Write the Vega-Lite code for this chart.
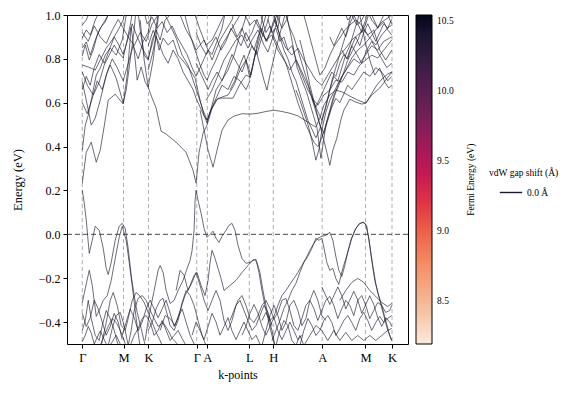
{
"$schema": "https://vega.github.io/schema/vega-lite/v6.json",
"width": 341, "height": 329,
"autosize": {"type": "none"},
"padding": {"left": 67, "top": 15, "right": 175, "bottom": 52},
"background": "white",
"config": {"view": {"stroke": "#000", "strokeWidth": 1}, "font": "Liberation Serif", "axis": {"labelOverlap": false, "labelFlush": false, "grid": false, "domain": false}},
"datasets": {
"kp": [{"k":0},{"k":41.3},{"k":66.3},{"k":114.7},{"k":125.3},{"k":167.3},{"k":191.3},{"k":240.3},{"k":283.7},{"k":310.3}],
"cb": [{"f":8.19},{"f":10.54}],
"bands": [
{"b":"c1","k":0,"e":0.233},{"b":"c1","k":4,"e":0.374},{"b":"c1","k":9,"e":0.420},{"b":"c1","k":14,"e":0.329},{"b":"c1","k":18,"e":0.384},{"b":"c1","k":22,"e":0.493},{"b":"c1","k":26,"e":0.612},{"b":"c1","k":33,"e":0.639},{"b":"c1","k":41,"e":0.594},{"b":"c1","k":45,"e":0.726},{"b":"c1","k":49,"e":0.945},{"b":"c1","k":52,"e":0.840},{"b":"c1","k":55,"e":0.703},{"b":"c1","k":59,"e":0.763},{"b":"c1","k":63,"e":0.694},{"b":"c1","k":66,"e":0.671},{"b":"c1","k":71,"e":0.795},{"b":"c1","k":74,"e":0.909},{"b":"c1","k":77,"e":1.023},
{"b":"c2","k":58,"e":0.977},{"b":"c2","k":62,"e":0.795},{"b":"c2","k":66,"e":0.671},{"b":"c2","k":70,"e":0.621},{"b":"c2","k":74,"e":0.575},{"b":"c2","k":79,"e":0.470},{"b":"c2","k":84,"e":0.457},{"b":"c2","k":94,"e":0.420},{"b":"c2","k":104,"e":0.374},{"b":"c2","k":111,"e":0.292},{"b":"c2","k":114,"e":0.233},{"b":"c2","k":117,"e":0.374},{"b":"c2","k":121,"e":0.461},{"b":"c2","k":125,"e":0.498},{"b":"c2","k":130,"e":0.575},{"b":"c2","k":136,"e":0.621},{"b":"c2","k":144,"e":0.621},{"b":"c2","k":151,"e":0.621},{"b":"c2","k":158,"e":0.685},{"b":"c2","k":164,"e":0.726},{"b":"c2","k":168,"e":0.717},{"b":"c2","k":172,"e":0.795},{"b":"c2","k":176,"e":0.863},{"b":"c2","k":180,"e":0.932},{"b":"c2","k":184,"e":1.000},{"b":"c2","k":188,"e":1.091},
{"b":"c3","k":0,"e":0.694},{"b":"c3","k":4,"e":0.612},{"b":"c3","k":9,"e":0.498},{"b":"c3","k":13,"e":0.530},{"b":"c3","k":18,"e":0.612},{"b":"c3","k":24,"e":0.726},{"b":"c3","k":28,"e":0.772},{"b":"c3","k":34,"e":0.712},{"b":"c3","k":41,"e":0.598},{"b":"c3","k":44,"e":0.658},{"b":"c3","k":48,"e":0.795},{"b":"c3","k":52,"e":0.932},{"b":"c3","k":55,"e":1.091},
{"b":"c4","k":0,"e":0.740},{"b":"c4","k":5,"e":0.680},{"b":"c4","k":11,"e":0.635},{"b":"c4","k":17,"e":0.694},{"b":"c4","k":22,"e":0.772},{"b":"c4","k":27,"e":0.817},{"b":"c4","k":32,"e":0.863},{"b":"c4","k":36,"e":0.831},{"b":"c4","k":41,"e":0.804},{"b":"c4","k":45,"e":0.886},{"b":"c4","k":49,"e":0.977},{"b":"c4","k":52,"e":1.091},
{"b":"c5","k":0,"e":0.772},{"b":"c5","k":6,"e":0.763},{"b":"c5","k":13,"e":0.749},{"b":"c5","k":18,"e":0.795},{"b":"c5","k":24,"e":0.849},{"b":"c5","k":30,"e":0.886},{"b":"c5","k":36,"e":0.932},{"b":"c5","k":41,"e":0.977},{"b":"c5","k":46,"e":1.091},
{"b":"c6","k":0,"e":0.849},{"b":"c6","k":4,"e":0.877},{"b":"c6","k":8,"e":0.817},{"b":"c6","k":13,"e":0.886},{"b":"c6","k":18,"e":0.941},{"b":"c6","k":23,"e":0.968},{"b":"c6","k":28,"e":1.023},{"b":"c6","k":31,"e":1.091},
{"b":"c7","k":0,"e":0.895},{"b":"c7","k":4,"e":0.932},{"b":"c7","k":8,"e":0.909},{"b":"c7","k":13,"e":0.977},{"b":"c7","k":18,"e":1.023},{"b":"c7","k":22,"e":1.091},
{"b":"c8","k":0,"e":0.954},{"b":"c8","k":4,"e":0.977},{"b":"c8","k":8,"e":1.023},{"b":"c8","k":12,"e":1.091},
{"b":"c9","k":0,"e":0.813},{"b":"c9","k":3,"e":0.863},{"b":"c9","k":7,"e":0.795},{"b":"c9","k":11,"e":0.840},{"b":"c9","k":15,"e":0.909},{"b":"c9","k":20,"e":0.954},{"b":"c9","k":26,"e":1.000},{"b":"c9","k":30,"e":1.091},
{"b":"c10","k":0,"e":0.384},{"b":"c10","k":3,"e":0.498},{"b":"c10","k":6,"e":0.543},{"b":"c10","k":10,"e":0.635},{"b":"c10","k":14,"e":0.726},{"b":"c10","k":18,"e":0.758},{"b":"c10","k":23,"e":0.817},{"b":"c10","k":28,"e":0.849},{"b":"c10","k":34,"e":0.817},{"b":"c10","k":40,"e":0.886},{"b":"c10","k":44,"e":1.000},{"b":"c10","k":47,"e":1.091},
{"b":"c12","k":54,"e":1.091},{"b":"c12","k":58,"e":0.932},{"b":"c12","k":62,"e":0.817},{"b":"c12","k":66,"e":0.795},{"b":"c12","k":70,"e":0.886},{"b":"c12","k":74,"e":0.932},{"b":"c12","k":78,"e":0.886},{"b":"c12","k":83,"e":0.977},{"b":"c12","k":88,"e":1.000},{"b":"c12","k":92,"e":1.091},
{"b":"c13","k":66,"e":0.749},{"b":"c13","k":70,"e":0.817},{"b":"c13","k":74,"e":0.904},{"b":"c13","k":77,"e":0.840},{"b":"c13","k":81,"e":0.895},{"b":"c13","k":86,"e":0.863},{"b":"c13","k":91,"e":0.886},{"b":"c13","k":96,"e":0.817},{"b":"c13","k":102,"e":0.785},{"b":"c13","k":108,"e":0.749},{"b":"c13","k":113,"e":0.712},{"b":"c13","k":118,"e":0.612},{"b":"c13","k":122,"e":0.543},{"b":"c13","k":125,"e":0.507},{"b":"c13","k":130,"e":0.589},{"b":"c13","k":134,"e":0.658},{"b":"c13","k":140,"e":0.703},{"b":"c13","k":146,"e":0.749},{"b":"c13","k":152,"e":0.817},{"b":"c13","k":158,"e":0.909},{"b":"c13","k":163,"e":0.977},{"b":"c13","k":168,"e":1.091},
{"b":"c14","k":78,"e":1.091},{"b":"c14","k":83,"e":1.000},{"b":"c14","k":88,"e":0.954},{"b":"c14","k":94,"e":0.895},{"b":"c14","k":100,"e":0.817},{"b":"c14","k":106,"e":0.772},{"b":"c14","k":111,"e":0.703},{"b":"c14","k":116,"e":0.635},{"b":"c14","k":121,"e":0.566},{"b":"c14","k":125,"e":0.521},{"b":"c14","k":129,"e":0.566},{"b":"c14","k":134,"e":0.612},{"b":"c14","k":140,"e":0.626},{"b":"c14","k":146,"e":0.635},{"b":"c14","k":152,"e":0.680},{"b":"c14","k":158,"e":0.749},{"b":"c14","k":164,"e":0.795},{"b":"c14","k":169,"e":0.726},{"b":"c14","k":173,"e":0.817},{"b":"c14","k":177,"e":0.909},{"b":"c14","k":181,"e":1.000},{"b":"c14","k":184,"e":1.091},
{"b":"c15","k":94,"e":1.091},{"b":"c15","k":98,"e":1.000},{"b":"c15","k":104,"e":0.932},{"b":"c15","k":110,"e":0.886},{"b":"c15","k":114,"e":0.840},{"b":"c15","k":118,"e":0.863},{"b":"c15","k":122,"e":0.886},{"b":"c15","k":126,"e":0.840},{"b":"c15","k":130,"e":0.795},{"b":"c15","k":134,"e":0.840},{"b":"c15","k":138,"e":0.886},{"b":"c15","k":144,"e":0.932},{"b":"c15","k":150,"e":0.977},{"b":"c15","k":156,"e":1.091},
{"b":"c16","k":118,"e":0.566},{"b":"c16","k":122,"e":0.475},{"b":"c16","k":126,"e":0.384},{"b":"c16","k":131,"e":0.306},{"b":"c16","k":135,"e":0.384},{"b":"c16","k":140,"e":0.475},{"b":"c16","k":146,"e":0.521},{"b":"c16","k":152,"e":0.539},{"b":"c16","k":160,"e":0.550},{"b":"c16","k":168,"e":0.548},{"b":"c16","k":176,"e":0.552},{"b":"c16","k":184,"e":0.560},{"b":"c16","k":192,"e":0.566},{"b":"c16","k":200,"e":0.560},{"b":"c16","k":208,"e":0.552},{"b":"c16","k":216,"e":0.540},{"b":"c16","k":223,"e":0.520},{"b":"c16","k":228,"e":0.505},{"b":"c16","k":234,"e":0.489},{"b":"c16","k":238,"e":0.530},{"b":"c16","k":242,"e":0.589},{"b":"c16","k":248,"e":0.635},{"b":"c16","k":254,"e":0.658},{"b":"c16","k":261,"e":0.648},{"b":"c16","k":268,"e":0.630},{"b":"c16","k":276,"e":0.612},{"b":"c16","k":284,"e":0.598},{"b":"c16","k":290,"e":0.635},{"b":"c16","k":298,"e":0.667},{"b":"c16","k":304,"e":0.703},{"b":"c16","k":310,"e":0.740},
{"b":"c17","k":198,"e":1.091},{"b":"c17","k":202,"e":1.023},{"b":"c17","k":205,"e":0.991},{"b":"c17","k":210,"e":0.886},{"b":"c17","k":215,"e":0.763},{"b":"c17","k":220,"e":0.703},{"b":"c17","k":225,"e":0.644},{"b":"c17","k":230,"e":0.566},{"b":"c17","k":235,"e":0.489},{"b":"c17","k":238,"e":0.384},{"b":"c17","k":239,"e":0.347},{"b":"c17","k":241,"e":0.406},{"b":"c17","k":244,"e":0.498},{"b":"c17","k":248,"e":0.566},{"b":"c17","k":252,"e":0.635},{"b":"c17","k":256,"e":0.667},{"b":"c17","k":261,"e":0.726},{"b":"c17","k":266,"e":0.795},{"b":"c17","k":271,"e":0.840},{"b":"c17","k":276,"e":0.886},{"b":"c17","k":280,"e":0.932},{"b":"c17","k":284,"e":0.977},{"b":"c17","k":288,"e":1.091},
{"b":"c18","k":218,"e":0.886},{"b":"c18","k":223,"e":0.795},{"b":"c18","k":228,"e":0.680},{"b":"c18","k":233,"e":0.589},{"b":"c18","k":238,"e":0.498},{"b":"c18","k":242,"e":0.429},{"b":"c18","k":245,"e":0.374},{"b":"c18","k":248,"e":0.315},{"b":"c18","k":251,"e":0.384},{"b":"c18","k":255,"e":0.438},{"b":"c18","k":259,"e":0.521},{"b":"c18","k":262,"e":0.566},{"b":"c18","k":268,"e":0.616},{"b":"c18","k":274,"e":0.603},{"b":"c18","k":280,"e":0.594},{"b":"c18","k":284,"e":0.598},{"b":"c18","k":289,"e":0.635},{"b":"c18","k":295,"e":0.680},{"b":"c18","k":301,"e":0.712},{"b":"c18","k":306,"e":0.731},{"b":"c18","k":310,"e":0.740},
{"b":"c19","k":214,"e":0.658},{"b":"c19","k":218,"e":0.612},{"b":"c19","k":222,"e":0.557},{"b":"c19","k":226,"e":0.502},{"b":"c19","k":230,"e":0.429},{"b":"c19","k":234,"e":0.338},{"b":"c19","k":237,"e":0.384},{"b":"c19","k":240,"e":0.475},{"b":"c19","k":244,"e":0.557},{"b":"c19","k":248,"e":0.612},{"b":"c19","k":253,"e":0.658},{"b":"c19","k":258,"e":0.703},{"b":"c19","k":264,"e":0.749},{"b":"c19","k":270,"e":0.804},{"b":"c19","k":276,"e":0.840},{"b":"c19","k":282,"e":0.863},{"b":"c19","k":288,"e":0.895},{"b":"c19","k":294,"e":0.932},{"b":"c19","k":300,"e":0.968},{"b":"c19","k":306,"e":0.986},{"b":"c19","k":310,"e":1.000},
{"b":"c20","k":148,"e":0.658},{"b":"c20","k":153,"e":0.703},{"b":"c20","k":158,"e":0.772},{"b":"c20","k":162,"e":0.817},{"b":"c20","k":165,"e":0.772},{"b":"c20","k":168,"e":0.712},{"b":"c20","k":171,"e":0.772},{"b":"c20","k":174,"e":0.840},{"b":"c20","k":178,"e":0.772},{"b":"c20","k":182,"e":0.703},{"b":"c20","k":185,"e":0.658},{"b":"c20","k":188,"e":0.726},{"b":"c20","k":191,"e":0.785},{"b":"c20","k":195,"e":0.863},{"b":"c20","k":199,"e":0.932},{"b":"c20","k":203,"e":1.000},{"b":"c20","k":206,"e":1.091},
{"b":"c21","k":124,"e":0.612},{"b":"c21","k":130,"e":0.658},{"b":"c21","k":136,"e":0.726},{"b":"c21","k":142,"e":0.795},{"b":"c21","k":148,"e":0.840},{"b":"c21","k":154,"e":0.886},{"b":"c21","k":160,"e":0.909},{"b":"c21","k":166,"e":0.849},{"b":"c21","k":170,"e":0.886},{"b":"c21","k":176,"e":0.932},{"b":"c21","k":182,"e":0.863},{"b":"c21","k":186,"e":0.831},{"b":"c21","k":190,"e":0.886},{"b":"c21","k":194,"e":0.954},{"b":"c21","k":198,"e":1.023},{"b":"c21","k":201,"e":1.091},
{"b":"c22","k":158,"e":1.091},{"b":"c22","k":163,"e":1.000},{"b":"c22","k":168,"e":0.954},{"b":"c22","k":173,"e":0.977},{"b":"c22","k":178,"e":0.932},{"b":"c22","k":184,"e":0.886},{"b":"c22","k":190,"e":0.909},{"b":"c22","k":196,"e":0.840},{"b":"c22","k":202,"e":0.795},{"b":"c22","k":208,"e":0.749},{"b":"c22","k":214,"e":0.795},{"b":"c22","k":220,"e":0.726},{"b":"c22","k":226,"e":0.658},{"b":"c22","k":232,"e":0.612},{"b":"c22","k":236,"e":0.589},{"b":"c22","k":242,"e":0.635},{"b":"c22","k":248,"e":0.658},{"b":"c22","k":254,"e":0.703},{"b":"c22","k":260,"e":0.694},{"b":"c22","k":266,"e":0.740},{"b":"c22","k":272,"e":0.726},{"b":"c22","k":278,"e":0.772},{"b":"c22","k":284,"e":0.795},{"b":"c22","k":290,"e":0.817},{"b":"c22","k":296,"e":0.804},{"b":"c22","k":302,"e":0.840},{"b":"c22","k":306,"e":0.863},{"b":"c22","k":310,"e":0.886},
{"b":"c23","k":188,"e":1.091},{"b":"c23","k":193,"e":0.977},{"b":"c23","k":198,"e":0.909},{"b":"c23","k":204,"e":0.849},{"b":"c23","k":210,"e":0.817},{"b":"c23","k":216,"e":0.849},{"b":"c23","k":222,"e":0.795},{"b":"c23","k":228,"e":0.749},{"b":"c23","k":234,"e":0.703},{"b":"c23","k":240,"e":0.680},{"b":"c23","k":246,"e":0.726},{"b":"c23","k":252,"e":0.772},{"b":"c23","k":258,"e":0.817},{"b":"c23","k":264,"e":0.849},{"b":"c23","k":270,"e":0.886},{"b":"c23","k":276,"e":0.909},{"b":"c23","k":282,"e":0.932},{"b":"c23","k":288,"e":0.895},{"b":"c23","k":294,"e":0.863},{"b":"c23","k":300,"e":0.909},{"b":"c23","k":306,"e":0.941},{"b":"c23","k":310,"e":0.954},
{"b":"c24","k":218,"e":1.091},{"b":"c24","k":222,"e":1.000},{"b":"c24","k":226,"e":0.932},{"b":"c24","k":230,"e":0.863},{"b":"c24","k":234,"e":0.795},{"b":"c24","k":238,"e":0.726},{"b":"c24","k":243,"e":0.758},{"b":"c24","k":248,"e":0.817},{"b":"c24","k":253,"e":0.863},{"b":"c24","k":258,"e":0.895},{"b":"c24","k":263,"e":0.932},{"b":"c24","k":268,"e":0.954},{"b":"c24","k":274,"e":0.977},{"b":"c24","k":280,"e":0.954},{"b":"c24","k":286,"e":0.909},{"b":"c24","k":292,"e":0.932},{"b":"c24","k":298,"e":0.840},{"b":"c24","k":304,"e":0.795},{"b":"c24","k":310,"e":0.840},
{"b":"c25","k":258,"e":1.091},{"b":"c25","k":262,"e":1.023},{"b":"c25","k":266,"e":0.977},{"b":"c25","k":270,"e":1.000},{"b":"c25","k":275,"e":0.954},{"b":"c25","k":280,"e":0.977},{"b":"c25","k":285,"e":1.023},{"b":"c25","k":290,"e":0.977},{"b":"c25","k":296,"e":0.941},{"b":"c25","k":302,"e":0.968},{"b":"c25","k":306,"e":0.932},{"b":"c25","k":310,"e":0.909},
{"b":"c26","k":273,"e":1.091},{"b":"c26","k":278,"e":1.000},{"b":"c26","k":283,"e":0.886},{"b":"c26","k":288,"e":0.795},{"b":"c26","k":293,"e":0.726},{"b":"c26","k":298,"e":0.758},{"b":"c26","k":303,"e":0.694},{"b":"c26","k":307,"e":0.667},{"b":"c26","k":310,"e":0.680},
{"b":"c27","k":98,"e":1.091},{"b":"c27","k":104,"e":0.977},{"b":"c27","k":108,"e":0.909},{"b":"c27","k":113,"e":0.840},{"b":"c27","k":118,"e":0.772},{"b":"c27","k":122,"e":0.726},{"b":"c27","k":125,"e":0.703},{"b":"c27","k":129,"e":0.749},{"b":"c27","k":134,"e":0.795},{"b":"c27","k":140,"e":0.863},{"b":"c27","k":146,"e":0.909},{"b":"c27","k":152,"e":0.954},{"b":"c27","k":158,"e":1.000},{"b":"c27","k":164,"e":1.091},
{"b":"c28","k":108,"e":1.091},{"b":"c28","k":113,"e":1.000},{"b":"c28","k":118,"e":0.932},{"b":"c28","k":124,"e":0.863},{"b":"c28","k":130,"e":0.886},{"b":"c28","k":136,"e":0.941},{"b":"c28","k":142,"e":1.000},{"b":"c28","k":148,"e":1.091},
{"b":"c29","k":0,"e":0.60},{"b":"c29","k":5,"e":0.55},{"b":"c29","k":10,"e":0.62},{"b":"c29","k":15,"e":0.70},{"b":"c29","k":20,"e":0.66},{"b":"c29","k":25,"e":0.74},{"b":"c29","k":30,"e":0.80},{"b":"c29","k":35,"e":0.76},{"b":"c29","k":41,"e":0.70},{"b":"c29","k":46,"e":0.78},{"b":"c29","k":51,"e":0.86},{"b":"c29","k":56,"e":0.80},{"b":"c29","k":61,"e":0.88},{"b":"c29","k":66,"e":0.92},{"b":"c29","k":71,"e":1.05},
{"b":"c30","k":0,"e":0.66},{"b":"c30","k":4,"e":0.72},{"b":"c30","k":8,"e":0.68},{"b":"c30","k":12,"e":0.76},{"b":"c30","k":17,"e":0.82},{"b":"c30","k":22,"e":0.78},{"b":"c30","k":27,"e":0.84},{"b":"c30","k":32,"e":0.90},{"b":"c30","k":37,"e":0.86},{"b":"c30","k":41,"e":0.82},{"b":"c30","k":45,"e":0.88},{"b":"c30","k":50,"e":0.96},{"b":"c30","k":55,"e":0.90},{"b":"c30","k":60,"e":0.85},{"b":"c30","k":66,"e":0.80},{"b":"c30","k":72,"e":0.90},{"b":"c30","k":78,"e":1.05},
{"b":"c31","k":0,"e":0.92},{"b":"c31","k":6,"e":0.88},{"b":"c31","k":12,"e":0.95},{"b":"c31","k":18,"e":0.90},{"b":"c31","k":24,"e":0.87},{"b":"c31","k":30,"e":0.93},{"b":"c31","k":36,"e":0.98},{"b":"c31","k":41,"e":0.94},{"b":"c31","k":46,"e":0.90},{"b":"c31","k":52,"e":0.86},{"b":"c31","k":58,"e":0.92},{"b":"c31","k":64,"e":0.88},{"b":"c31","k":70,"e":0.96},{"b":"c31","k":76,"e":1.00},{"b":"c31","k":82,"e":1.06},
{"b":"c32","k":66,"e":0.86},{"b":"c32","k":71,"e":0.93},{"b":"c32","k":76,"e":0.88},{"b":"c32","k":81,"e":0.82},{"b":"c32","k":86,"e":0.78},{"b":"c32","k":91,"e":0.84},{"b":"c32","k":96,"e":0.80},{"b":"c32","k":101,"e":0.74},{"b":"c32","k":106,"e":0.70},{"b":"c32","k":111,"e":0.66},{"b":"c32","k":114,"e":0.62},{"b":"c32","k":118,"e":0.58},{"b":"c32","k":122,"e":0.54},{"b":"c32","k":125,"e":0.52},{"b":"c32","k":129,"e":0.57},{"b":"c32","k":134,"e":0.62},{"b":"c32","k":140,"e":0.68},{"b":"c32","k":146,"e":0.66},{"b":"c32","k":152,"e":0.72},{"b":"c32","k":158,"e":0.70},{"b":"c32","k":164,"e":0.66},{"b":"c32","k":168,"e":0.70},
{"b":"c33","k":60,"e":1.05},{"b":"c33","k":65,"e":0.96},{"b":"c33","k":70,"e":0.99},{"b":"c33","k":75,"e":0.94},{"b":"c33","k":80,"e":0.97},{"b":"c33","k":85,"e":0.92},{"b":"c33","k":90,"e":0.95},{"b":"c33","k":95,"e":0.90},{"b":"c33","k":100,"e":0.86},{"b":"c33","k":105,"e":0.82},{"b":"c33","k":110,"e":0.76},{"b":"c33","k":114,"e":0.72},{"b":"c33","k":118,"e":0.76},{"b":"c33","k":122,"e":0.80},{"b":"c33","k":126,"e":0.84},{"b":"c33","k":130,"e":0.82},{"b":"c33","k":135,"e":0.88},{"b":"c33","k":140,"e":0.94},{"b":"c33","k":145,"e":1.05},
{"b":"c34","k":114,"e":0.78},{"b":"c34","k":118,"e":0.74},{"b":"c34","k":122,"e":0.70},{"b":"c34","k":126,"e":0.66},{"b":"c34","k":130,"e":0.70},{"b":"c34","k":135,"e":0.74},{"b":"c34","k":140,"e":0.70},{"b":"c34","k":145,"e":0.76},{"b":"c34","k":150,"e":0.82},{"b":"c34","k":155,"e":0.78},{"b":"c34","k":160,"e":0.74},{"b":"c34","k":165,"e":0.80},{"b":"c34","k":170,"e":0.86},{"b":"c34","k":175,"e":0.82},{"b":"c34","k":180,"e":0.90},{"b":"c34","k":185,"e":0.96},{"b":"c34","k":190,"e":1.05},
{"b":"c35","k":114,"e":0.92},{"b":"c35","k":119,"e":0.86},{"b":"c35","k":124,"e":0.82},{"b":"c35","k":129,"e":0.86},{"b":"c35","k":134,"e":0.90},{"b":"c35","k":139,"e":0.84},{"b":"c35","k":144,"e":0.88},{"b":"c35","k":149,"e":0.94},{"b":"c35","k":154,"e":0.90},{"b":"c35","k":159,"e":0.86},{"b":"c35","k":164,"e":0.92},{"b":"c35","k":168,"e":0.88},{"b":"c35","k":172,"e":0.84},{"b":"c35","k":176,"e":0.90},{"b":"c35","k":180,"e":0.94},{"b":"c35","k":184,"e":0.88},{"b":"c35","k":188,"e":0.92},{"b":"c35","k":192,"e":0.98},{"b":"c35","k":196,"e":0.94},{"b":"c35","k":200,"e":1.05},
{"b":"c36","k":176,"e":1.05},{"b":"c36","k":180,"e":0.98},{"b":"c36","k":184,"e":0.92},{"b":"c36","k":188,"e":0.95},{"b":"c36","k":192,"e":0.90},{"b":"c36","k":196,"e":0.86},{"b":"c36","k":200,"e":0.82},{"b":"c36","k":204,"e":0.78},{"b":"c36","k":208,"e":0.72},{"b":"c36","k":212,"e":0.66},{"b":"c36","k":216,"e":0.60},{"b":"c36","k":220,"e":0.55},{"b":"c36","k":224,"e":0.50},{"b":"c36","k":228,"e":0.46},{"b":"c36","k":232,"e":0.42},{"b":"c36","k":236,"e":0.40},{"b":"c36","k":240,"e":0.44},{"b":"c36","k":244,"e":0.50},{"b":"c36","k":248,"e":0.56},{"b":"c36","k":252,"e":0.62},{"b":"c36","k":256,"e":0.68},{"b":"c36","k":260,"e":0.72},{"b":"c36","k":266,"e":0.76},{"b":"c36","k":272,"e":0.80},{"b":"c36","k":278,"e":0.78},{"b":"c36","k":284,"e":0.82},{"b":"c36","k":290,"e":0.86},{"b":"c36","k":296,"e":0.84},{"b":"c36","k":302,"e":0.88},{"b":"c36","k":310,"e":0.90},
{"b":"c37","k":190,"e":1.05},{"b":"c37","k":194,"e":0.97},{"b":"c37","k":198,"e":0.90},{"b":"c37","k":202,"e":0.84},{"b":"c37","k":206,"e":0.80},{"b":"c37","k":210,"e":0.74},{"b":"c37","k":214,"e":0.70},{"b":"c37","k":218,"e":0.64},{"b":"c37","k":222,"e":0.58},{"b":"c37","k":226,"e":0.52},{"b":"c37","k":230,"e":0.48},{"b":"c37","k":234,"e":0.44},{"b":"c37","k":238,"e":0.48},{"b":"c37","k":242,"e":0.55},{"b":"c37","k":246,"e":0.62},{"b":"c37","k":250,"e":0.70},{"b":"c37","k":254,"e":0.76},{"b":"c37","k":258,"e":0.82},{"b":"c37","k":262,"e":0.88},{"b":"c37","k":266,"e":0.94},{"b":"c37","k":270,"e":1.02},
{"b":"c38","k":200,"e":1.05},{"b":"c38","k":204,"e":1.00},{"b":"c38","k":208,"e":0.94},{"b":"c38","k":212,"e":0.90},{"b":"c38","k":216,"e":0.84},{"b":"c38","k":220,"e":0.78},{"b":"c38","k":224,"e":0.72},{"b":"c38","k":228,"e":0.66},{"b":"c38","k":232,"e":0.60},{"b":"c38","k":236,"e":0.56},{"b":"c38","k":240,"e":0.52},{"b":"c38","k":244,"e":0.58},{"b":"c38","k":248,"e":0.66},{"b":"c38","k":252,"e":0.72},{"b":"c38","k":256,"e":0.70},{"b":"c38","k":260,"e":0.76},{"b":"c38","k":264,"e":0.82},{"b":"c38","k":268,"e":0.86},{"b":"c38","k":272,"e":0.92},{"b":"c38","k":276,"e":0.98},{"b":"c38","k":280,"e":1.05},
{"b":"c39","k":260,"e":0.84},{"b":"c39","k":265,"e":0.80},{"b":"c39","k":270,"e":0.86},{"b":"c39","k":275,"e":0.82},{"b":"c39","k":280,"e":0.78},{"b":"c39","k":285,"e":0.84},{"b":"c39","k":290,"e":0.88},{"b":"c39","k":295,"e":0.84},{"b":"c39","k":300,"e":0.80},{"b":"c39","k":305,"e":0.76},{"b":"c39","k":310,"e":0.78},
{"b":"c40","k":150,"e":0.96},{"b":"c40","k":155,"e":0.90},{"b":"c40","k":160,"e":0.94},{"b":"c40","k":165,"e":0.88},{"b":"c40","k":170,"e":0.92},{"b":"c40","k":175,"e":0.98},{"b":"c40","k":180,"e":0.92},{"b":"c40","k":185,"e":0.88},{"b":"c40","k":190,"e":0.94},{"b":"c40","k":195,"e":1.00},{"b":"c40","k":200,"e":0.94},{"b":"c40","k":205,"e":0.98},{"b":"c40","k":210,"e":1.05},
{"b":"c41","k":186,"e":0.98},{"b":"c41","k":190,"e":0.92},{"b":"c41","k":194,"e":0.94},{"b":"c41","k":198,"e":0.88},{"b":"c41","k":202,"e":0.90},{"b":"c41","k":206,"e":0.84},{"b":"c41","k":210,"e":0.86},{"b":"c41","k":214,"e":0.80},{"b":"c41","k":218,"e":0.76},{"b":"c41","k":222,"e":0.72},{"b":"c41","k":226,"e":0.68},{"b":"c41","k":230,"e":0.62},{"b":"c41","k":234,"e":0.58},{"b":"c41","k":238,"e":0.62},{"b":"c41","k":242,"e":0.66},{"b":"c41","k":246,"e":0.70},{"b":"c41","k":250,"e":0.74},{"b":"c41","k":254,"e":0.72},{"b":"c41","k":258,"e":0.78},{"b":"c41","k":262,"e":0.82},{"b":"c41","k":266,"e":0.80},{"b":"c41","k":270,"e":0.86},{"b":"c41","k":274,"e":0.90},{"b":"c41","k":278,"e":0.86},{"b":"c41","k":282,"e":0.92},{"b":"c41","k":286,"e":0.96},{"b":"c41","k":290,"e":0.92},{"b":"c41","k":294,"e":0.88},{"b":"c41","k":298,"e":0.92},{"b":"c41","k":302,"e":0.96},{"b":"c41","k":306,"e":0.94},{"b":"c41","k":310,"e":0.98},
{"b":"c42","k":230,"e":0.62},{"b":"c42","k":234,"e":0.56},{"b":"c42","k":238,"e":0.50},{"b":"c42","k":242,"e":0.46},{"b":"c42","k":246,"e":0.52},{"b":"c42","k":250,"e":0.58},{"b":"c42","k":254,"e":0.62},{"b":"c42","k":258,"e":0.60},{"b":"c42","k":262,"e":0.64},{"b":"c42","k":266,"e":0.68},{"b":"c42","k":270,"e":0.66},{"b":"c42","k":276,"e":0.70},{"b":"c42","k":282,"e":0.74},{"b":"c42","k":288,"e":0.72},{"b":"c42","k":294,"e":0.76},{"b":"c42","k":300,"e":0.74},{"b":"c42","k":306,"e":0.70},{"b":"c42","k":310,"e":0.72},
{"b":"c43","k":248,"e":0.90},{"b":"c43","k":252,"e":0.86},{"b":"c43","k":256,"e":0.90},{"b":"c43","k":260,"e":0.94},{"b":"c43","k":264,"e":0.90},{"b":"c43","k":268,"e":0.96},{"b":"c43","k":272,"e":1.00},{"b":"c43","k":276,"e":0.96},{"b":"c43","k":280,"e":0.92},{"b":"c43","k":284,"e":0.96},{"b":"c43","k":288,"e":1.02},{"b":"c43","k":292,"e":0.98},{"b":"c43","k":296,"e":0.94},{"b":"c43","k":300,"e":0.98},{"b":"c43","k":304,"e":1.02},{"b":"c43","k":308,"e":0.98},{"b":"c43","k":310,"e":0.96},
{"b":"v1","k":0,"e":0.201},{"b":"v1","k":2,"e":0.142},{"b":"v1","k":4,"e":0.064},{"b":"v1","k":6,"e":-0.037},{"b":"v1","k":7,"e":-0.087},{"b":"v1","k":10,"e":-0.027},{"b":"v1","k":13,"e":0.037},{"b":"v1","k":17,"e":0.018},{"b":"v1","k":21,"e":-0.064},{"b":"v1","k":24,"e":-0.155},{"b":"v1","k":26,"e":-0.183},{"b":"v1","k":29,"e":-0.128},{"b":"v1","k":33,"e":-0.027},{"b":"v1","k":37,"e":0.037},{"b":"v1","k":40,"e":0.050},{"b":"v1","k":43,"e":0.027},{"b":"v1","k":46,"e":-0.064},{"b":"v1","k":49,"e":-0.187},{"b":"v1","k":52,"e":-0.279},{"b":"v1","k":55,"e":-0.356},{"b":"v1","k":59,"e":-0.429},{"b":"v1","k":63,"e":-0.507},{"b":"v1","k":66,"e":-0.575},
{"b":"v2","k":0,"e":-0.311},{"b":"v2","k":3,"e":-0.247},{"b":"v2","k":7,"e":-0.164},{"b":"v2","k":10,"e":-0.233},{"b":"v2","k":14,"e":-0.374},{"b":"v2","k":17,"e":-0.347},{"b":"v2","k":21,"e":-0.301},{"b":"v2","k":25,"e":-0.279},{"b":"v2","k":29,"e":-0.210},{"b":"v2","k":33,"e":-0.110},{"b":"v2","k":37,"e":-0.014},{"b":"v2","k":40,"e":0.037},{"b":"v2","k":44,"e":-0.027},{"b":"v2","k":47,"e":-0.128},{"b":"v2","k":50,"e":-0.233},{"b":"v2","k":54,"e":-0.384},{"b":"v2","k":57,"e":-0.484},{"b":"v2","k":60,"e":-0.575},
{"b":"v3","k":0,"e":-0.438},{"b":"v3","k":3,"e":-0.393},{"b":"v3","k":6,"e":-0.301},{"b":"v3","k":9,"e":-0.384},{"b":"v3","k":13,"e":-0.461},{"b":"v3","k":17,"e":-0.484},{"b":"v3","k":20,"e":-0.416},{"b":"v3","k":24,"e":-0.347},{"b":"v3","k":28,"e":-0.384},{"b":"v3","k":32,"e":-0.438},{"b":"v3","k":36,"e":-0.507},{"b":"v3","k":40,"e":-0.575},
{"b":"v4","k":16,"e":-0.575},{"b":"v4","k":20,"e":-0.484},{"b":"v4","k":24,"e":-0.402},{"b":"v4","k":28,"e":-0.301},{"b":"v4","k":31,"e":-0.265},{"b":"v4","k":35,"e":-0.324},{"b":"v4","k":39,"e":-0.416},{"b":"v4","k":43,"e":-0.438},{"b":"v4","k":46,"e":-0.384},{"b":"v4","k":50,"e":-0.301},{"b":"v4","k":54,"e":-0.265},{"b":"v4","k":58,"e":-0.283},{"b":"v4","k":62,"e":-0.311},{"b":"v4","k":66,"e":-0.356},{"b":"v4","k":70,"e":-0.402},{"b":"v4","k":74,"e":-0.447},{"b":"v4","k":78,"e":-0.484},{"b":"v4","k":82,"e":-0.530},
{"b":"v5","k":26,"e":-0.507},{"b":"v5","k":30,"e":-0.429},{"b":"v5","k":34,"e":-0.370},{"b":"v5","k":38,"e":-0.356},{"b":"v5","k":42,"e":-0.416},{"b":"v5","k":46,"e":-0.507},{"b":"v5","k":49,"e":-0.575},
{"b":"v6","k":43,"e":-0.575},{"b":"v6","k":46,"e":-0.507},{"b":"v6","k":49,"e":-0.438},{"b":"v6","k":52,"e":-0.347},{"b":"v6","k":56,"e":-0.292},{"b":"v6","k":60,"e":-0.279},{"b":"v6","k":64,"e":-0.301},{"b":"v6","k":68,"e":-0.347},{"b":"v6","k":72,"e":-0.384},{"b":"v6","k":76,"e":-0.420},{"b":"v6","k":81,"e":-0.402},{"b":"v6","k":86,"e":-0.438},{"b":"v6","k":90,"e":-0.475},{"b":"v6","k":94,"e":-0.493},{"b":"v6","k":98,"e":-0.521},
{"b":"v7","k":63,"e":-0.484},{"b":"v7","k":66,"e":-0.393},{"b":"v7","k":70,"e":-0.301},{"b":"v7","k":73,"e":-0.233},{"b":"v7","k":76,"e":-0.164},{"b":"v7","k":78,"e":-0.142},{"b":"v7","k":81,"e":-0.174},{"b":"v7","k":84,"e":-0.256},{"b":"v7","k":88,"e":-0.315},{"b":"v7","k":92,"e":-0.301},{"b":"v7","k":96,"e":-0.256},{"b":"v7","k":101,"e":-0.210},{"b":"v7","k":105,"e":-0.155},{"b":"v7","k":108,"e":-0.119},{"b":"v7","k":110,"e":-0.073},{"b":"v7","k":112,"e":0.018},{"b":"v7","k":113,"e":0.155},{"b":"v7","k":114,"e":0.201},{"b":"v7","k":116,"e":0.155},{"b":"v7","k":119,"e":0.096},{"b":"v7","k":122,"e":0.027},{"b":"v7","k":125,"e":-0.014},{"b":"v7","k":128,"e":0.000},{"b":"v7","k":131,"e":0.014},{"b":"v7","k":134,"e":-0.018},{"b":"v7","k":137,"e":-0.037},{"b":"v7","k":140,"e":-0.009},{"b":"v7","k":144,"e":0.018},{"b":"v7","k":147,"e":0.041},{"b":"v7","k":150,"e":0.050},{"b":"v7","k":153,"e":0.018},{"b":"v7","k":156,"e":-0.050},{"b":"v7","k":160,"e":-0.110},{"b":"v7","k":164,"e":-0.132},{"b":"v7","k":168,"e":-0.128},{"b":"v7","k":172,"e":-0.114},{"b":"v7","k":175,"e":-0.128},{"b":"v7","k":178,"e":-0.174},{"b":"v7","k":181,"e":-0.256},{"b":"v7","k":184,"e":-0.324},{"b":"v7","k":187,"e":-0.384},{"b":"v7","k":190,"e":-0.438},{"b":"v7","k":193,"e":-0.507},{"b":"v7","k":196,"e":-0.575},
{"b":"v8","k":78,"e":-0.438},{"b":"v8","k":83,"e":-0.370},{"b":"v8","k":88,"e":-0.384},{"b":"v8","k":93,"e":-0.416},{"b":"v8","k":98,"e":-0.347},{"b":"v8","k":103,"e":-0.279},{"b":"v8","k":108,"e":-0.233},{"b":"v8","k":112,"e":-0.187},{"b":"v8","k":115,"e":-0.174},{"b":"v8","k":119,"e":-0.233},{"b":"v8","k":123,"e":-0.279},{"b":"v8","k":126,"e":-0.210},{"b":"v8","k":128,"e":-0.128},{"b":"v8","k":130,"e":-0.073},{"b":"v8","k":133,"e":-0.110},{"b":"v8","k":136,"e":-0.155},{"b":"v8","k":139,"e":-0.201},{"b":"v8","k":142,"e":-0.256},{"b":"v8","k":148,"e":-0.233},{"b":"v8","k":154,"e":-0.210},{"b":"v8","k":160,"e":-0.174},{"b":"v8","k":166,"e":-0.142},{"b":"v8","k":171,"e":-0.119},{"b":"v8","k":174,"e":-0.114},{"b":"v8","k":177,"e":-0.174},{"b":"v8","k":180,"e":-0.256},{"b":"v8","k":183,"e":-0.324},{"b":"v8","k":186,"e":-0.384},{"b":"v8","k":190,"e":-0.461},{"b":"v8","k":194,"e":-0.530},
{"b":"v9","k":180,"e":-0.393},{"b":"v9","k":184,"e":-0.356},{"b":"v9","k":188,"e":-0.393},{"b":"v9","k":192,"e":-0.374},{"b":"v9","k":196,"e":-0.324},{"b":"v9","k":200,"e":-0.279},{"b":"v9","k":204,"e":-0.256},{"b":"v9","k":208,"e":-0.228},{"b":"v9","k":212,"e":-0.201},{"b":"v9","k":216,"e":-0.174},{"b":"v9","k":220,"e":-0.142},{"b":"v9","k":224,"e":-0.110},{"b":"v9","k":228,"e":-0.073},{"b":"v9","k":232,"e":-0.041},{"b":"v9","k":236,"e":-0.018},{"b":"v9","k":240,"e":-0.009},{"b":"v9","k":244,"e":-0.005},{"b":"v9","k":248,"e":0.009},{"b":"v9","k":251,"e":-0.027},{"b":"v9","k":254,"e":-0.100},{"b":"v9","k":257,"e":-0.164},{"b":"v9","k":260,"e":-0.192},{"b":"v9","k":263,"e":-0.142},{"b":"v9","k":266,"e":-0.082},{"b":"v9","k":270,"e":-0.018},{"b":"v9","k":274,"e":0.027},{"b":"v9","k":278,"e":0.050},{"b":"v9","k":282,"e":0.055},{"b":"v9","k":285,"e":0.037},{"b":"v9","k":288,"e":-0.050},{"b":"v9","k":291,"e":-0.142},{"b":"v9","k":294,"e":-0.224},{"b":"v9","k":298,"e":-0.301},{"b":"v9","k":302,"e":-0.370},{"b":"v9","k":306,"e":-0.438},{"b":"v9","k":310,"e":-0.484},
{"b":"v10","k":190,"e":-0.484},{"b":"v10","k":194,"e":-0.438},{"b":"v10","k":198,"e":-0.393},{"b":"v10","k":202,"e":-0.338},{"b":"v10","k":206,"e":-0.301},{"b":"v10","k":210,"e":-0.256},{"b":"v10","k":214,"e":-0.224},{"b":"v10","k":218,"e":-0.174},{"b":"v10","k":222,"e":-0.128},{"b":"v10","k":226,"e":-0.100},{"b":"v10","k":230,"e":-0.064},{"b":"v10","k":234,"e":-0.018},{"b":"v10","k":237,"e":-0.027},{"b":"v10","k":240,"e":-0.018},{"b":"v10","k":242,"e":-0.059},{"b":"v10","k":245,"e":-0.128},{"b":"v10","k":248,"e":-0.164},{"b":"v10","k":251,"e":-0.155},{"b":"v10","k":254,"e":-0.201},{"b":"v10","k":257,"e":-0.228},{"b":"v10","k":261,"e":-0.155},{"b":"v10","k":265,"e":-0.096},{"b":"v10","k":269,"e":-0.027},{"b":"v10","k":273,"e":0.018},{"b":"v10","k":277,"e":0.046},{"b":"v10","k":281,"e":0.055},{"b":"v10","k":284,"e":0.046},{"b":"v10","k":287,"e":-0.018},{"b":"v10","k":290,"e":-0.119},{"b":"v10","k":293,"e":-0.210},{"b":"v10","k":296,"e":-0.265},{"b":"v10","k":300,"e":-0.324},{"b":"v10","k":304,"e":-0.393},{"b":"v10","k":308,"e":-0.461},{"b":"v10","k":310,"e":-0.484},
{"b":"v11","k":66,"e":-0.438},{"b":"v11","k":70,"e":-0.402},{"b":"v11","k":74,"e":-0.338},{"b":"v11","k":78,"e":-0.301},{"b":"v11","k":81,"e":-0.292},{"b":"v11","k":84,"e":-0.347},{"b":"v11","k":88,"e":-0.416},{"b":"v11","k":92,"e":-0.438},{"b":"v11","k":96,"e":-0.393},{"b":"v11","k":100,"e":-0.311},{"b":"v11","k":104,"e":-0.256},{"b":"v11","k":108,"e":-0.279},{"b":"v11","k":112,"e":-0.324},{"b":"v11","k":116,"e":-0.393},{"b":"v11","k":120,"e":-0.461},{"b":"v11","k":124,"e":-0.507},{"b":"v11","k":128,"e":-0.575},
{"b":"v12","k":94,"e":-0.256},{"b":"v12","k":98,"e":-0.164},{"b":"v12","k":102,"e":-0.187},{"b":"v12","k":106,"e":-0.256},{"b":"v12","k":110,"e":-0.219},{"b":"v12","k":114,"e":-0.174},{"b":"v12","k":118,"e":-0.233},{"b":"v12","k":122,"e":-0.301},{"b":"v12","k":126,"e":-0.347},{"b":"v12","k":130,"e":-0.301},{"b":"v12","k":134,"e":-0.256},{"b":"v12","k":138,"e":-0.301},{"b":"v12","k":142,"e":-0.393},{"b":"v12","k":146,"e":-0.438},{"b":"v12","k":150,"e":-0.393},{"b":"v12","k":154,"e":-0.324},{"b":"v12","k":158,"e":-0.301},{"b":"v12","k":162,"e":-0.347},{"b":"v12","k":166,"e":-0.393},{"b":"v12","k":170,"e":-0.438},{"b":"v12","k":174,"e":-0.416},{"b":"v12","k":178,"e":-0.370},{"b":"v12","k":182,"e":-0.324},{"b":"v12","k":186,"e":-0.356},{"b":"v12","k":190,"e":-0.416},
{"b":"v13","k":148,"e":-0.393},{"b":"v13","k":152,"e":-0.347},{"b":"v13","k":156,"e":-0.301},{"b":"v13","k":160,"e":-0.279},{"b":"v13","k":164,"e":-0.324},{"b":"v13","k":168,"e":-0.384},{"b":"v13","k":172,"e":-0.402},{"b":"v13","k":176,"e":-0.370},{"b":"v13","k":180,"e":-0.324},{"b":"v13","k":184,"e":-0.301},{"b":"v13","k":188,"e":-0.338},{"b":"v13","k":192,"e":-0.384},{"b":"v13","k":196,"e":-0.356},{"b":"v13","k":200,"e":-0.301},{"b":"v13","k":204,"e":-0.292},{"b":"v13","k":208,"e":-0.347},{"b":"v13","k":212,"e":-0.416},{"b":"v13","k":216,"e":-0.438},{"b":"v13","k":220,"e":-0.384},{"b":"v13","k":224,"e":-0.324},{"b":"v13","k":228,"e":-0.301},{"b":"v13","k":232,"e":-0.338},{"b":"v13","k":236,"e":-0.393},{"b":"v13","k":240,"e":-0.347},{"b":"v13","k":244,"e":-0.301},{"b":"v13","k":248,"e":-0.283},{"b":"v13","k":252,"e":-0.324},{"b":"v13","k":256,"e":-0.384},{"b":"v13","k":260,"e":-0.338},{"b":"v13","k":264,"e":-0.301},{"b":"v13","k":268,"e":-0.324},{"b":"v13","k":272,"e":-0.370},{"b":"v13","k":276,"e":-0.301},{"b":"v13","k":280,"e":-0.279},{"b":"v13","k":284,"e":-0.324},{"b":"v13","k":288,"e":-0.384},{"b":"v13","k":292,"e":-0.347},{"b":"v13","k":296,"e":-0.311},{"b":"v13","k":300,"e":-0.324},{"b":"v13","k":304,"e":-0.356},{"b":"v13","k":308,"e":-0.347},{"b":"v13","k":310,"e":-0.324},
{"b":"v15","k":18,"e":-0.507},{"b":"v15","k":22,"e":-0.461},{"b":"v15","k":26,"e":-0.420},{"b":"v15","k":30,"e":-0.384},{"b":"v15","k":34,"e":-0.402},{"b":"v15","k":38,"e":-0.438},{"b":"v15","k":42,"e":-0.484},{"b":"v15","k":45,"e":-0.530},
{"b":"v16","k":48,"e":-0.507},{"b":"v16","k":52,"e":-0.461},{"b":"v16","k":56,"e":-0.429},{"b":"v16","k":60,"e":-0.384},{"b":"v16","k":64,"e":-0.370},{"b":"v16","k":68,"e":-0.402},{"b":"v16","k":72,"e":-0.461},{"b":"v16","k":76,"e":-0.438},{"b":"v16","k":80,"e":-0.393},{"b":"v16","k":84,"e":-0.438},{"b":"v16","k":88,"e":-0.484},{"b":"v16","k":92,"e":-0.461},{"b":"v16","k":96,"e":-0.438},{"b":"v16","k":100,"e":-0.475},{"b":"v16","k":104,"e":-0.507},
{"b":"v17","k":218,"e":-0.507},{"b":"v17","k":222,"e":-0.438},{"b":"v17","k":226,"e":-0.384},{"b":"v17","k":230,"e":-0.416},{"b":"v17","k":234,"e":-0.461},{"b":"v17","k":238,"e":-0.438},{"b":"v17","k":242,"e":-0.393},{"b":"v17","k":246,"e":-0.370},{"b":"v17","k":250,"e":-0.402},{"b":"v17","k":254,"e":-0.461},{"b":"v17","k":258,"e":-0.429},{"b":"v17","k":262,"e":-0.393},{"b":"v17","k":266,"e":-0.370},{"b":"v17","k":270,"e":-0.402},{"b":"v17","k":274,"e":-0.438},{"b":"v17","k":278,"e":-0.384},{"b":"v17","k":282,"e":-0.356},{"b":"v17","k":286,"e":-0.393},{"b":"v17","k":290,"e":-0.438},{"b":"v17","k":294,"e":-0.402},{"b":"v17","k":298,"e":-0.374},{"b":"v17","k":302,"e":-0.402},{"b":"v17","k":306,"e":-0.384},{"b":"v17","k":310,"e":-0.370},
{"b":"v18","k":194,"e":-0.507},{"b":"v18","k":198,"e":-0.438},{"b":"v18","k":202,"e":-0.393},{"b":"v18","k":206,"e":-0.416},{"b":"v18","k":210,"e":-0.484},{"b":"v18","k":214,"e":-0.507},{"b":"v18","k":218,"e":-0.461},{"b":"v18","k":222,"e":-0.507},{"b":"v18","k":228,"e":-0.461},{"b":"v18","k":234,"e":-0.416},{"b":"v18","k":240,"e":-0.438},{"b":"v18","k":246,"e":-0.484},{"b":"v18","k":252,"e":-0.438},{"b":"v18","k":258,"e":-0.484},{"b":"v18","k":264,"e":-0.447},{"b":"v18","k":270,"e":-0.484},{"b":"v18","k":276,"e":-0.461},{"b":"v18","k":282,"e":-0.484},{"b":"v18","k":288,"e":-0.461},{"b":"v18","k":294,"e":-0.484},{"b":"v18","k":300,"e":-0.461},{"b":"v18","k":306,"e":-0.438},{"b":"v18","k":310,"e":-0.429},
{"b":"v19","k":258,"e":-0.301},{"b":"v19","k":264,"e":-0.256},{"b":"v19","k":270,"e":-0.219},{"b":"v19","k":276,"e":-0.201},{"b":"v19","k":282,"e":-0.219},{"b":"v19","k":288,"e":-0.256},{"b":"v19","k":294,"e":-0.283},{"b":"v19","k":300,"e":-0.311},{"b":"v19","k":306,"e":-0.329},{"b":"v19","k":310,"e":-0.315},
{"b":"v20","k":180,"e":-0.507},{"b":"v20","k":184,"e":-0.438},{"b":"v20","k":188,"e":-0.370},{"b":"v20","k":192,"e":-0.324},{"b":"v20","k":196,"e":-0.370},{"b":"v20","k":200,"e":-0.438},{"b":"v20","k":204,"e":-0.402},{"b":"v20","k":208,"e":-0.324},{"b":"v20","k":212,"e":-0.301},{"b":"v20","k":216,"e":-0.347},{"b":"v20","k":220,"e":-0.416},{"b":"v20","k":224,"e":-0.384},{"b":"v20","k":228,"e":-0.301},{"b":"v20","k":232,"e":-0.256},{"b":"v20","k":236,"e":-0.301},{"b":"v20","k":240,"e":-0.370},{"b":"v20","k":244,"e":-0.393},
{"b":"v21","k":0,"e":-0.36},{"b":"v21","k":4,"e":-0.42},{"b":"v21","k":8,"e":-0.38},{"b":"v21","k":12,"e":-0.30},{"b":"v21","k":16,"e":-0.34},{"b":"v21","k":20,"e":-0.40},{"b":"v21","k":24,"e":-0.46},{"b":"v21","k":28,"e":-0.42},{"b":"v21","k":32,"e":-0.36},{"b":"v21","k":36,"e":-0.40},{"b":"v21","k":40,"e":-0.48},
{"b":"v22","k":40,"e":-0.46},{"b":"v22","k":44,"e":-0.40},{"b":"v22","k":48,"e":-0.34},{"b":"v22","k":52,"e":-0.38},{"b":"v22","k":56,"e":-0.44},{"b":"v22","k":60,"e":-0.40},{"b":"v22","k":64,"e":-0.34},{"b":"v22","k":68,"e":-0.30},{"b":"v22","k":72,"e":-0.34},{"b":"v22","k":76,"e":-0.38},{"b":"v22","k":80,"e":-0.34},{"b":"v22","k":84,"e":-0.30},{"b":"v22","k":88,"e":-0.36},{"b":"v22","k":92,"e":-0.42},{"b":"v22","k":96,"e":-0.38},{"b":"v22","k":100,"e":-0.34},{"b":"v22","k":104,"e":-0.40},{"b":"v22","k":108,"e":-0.46},{"b":"v22","k":112,"e":-0.50},
{"b":"v23","k":110,"e":-0.46},{"b":"v23","k":114,"e":-0.40},{"b":"v23","k":118,"e":-0.44},{"b":"v23","k":122,"e":-0.48},{"b":"v23","k":126,"e":-0.42},{"b":"v23","k":130,"e":-0.36},{"b":"v23","k":134,"e":-0.40},{"b":"v23","k":138,"e":-0.46},{"b":"v23","k":142,"e":-0.42},{"b":"v23","k":146,"e":-0.38},{"b":"v23","k":150,"e":-0.44},{"b":"v23","k":154,"e":-0.48},{"b":"v23","k":158,"e":-0.44},{"b":"v23","k":162,"e":-0.40},{"b":"v23","k":166,"e":-0.44},{"b":"v23","k":170,"e":-0.48},{"b":"v23","k":174,"e":-0.46},{"b":"v23","k":178,"e":-0.50},
{"b":"v24","k":160,"e":-0.46},{"b":"v24","k":164,"e":-0.42},{"b":"v24","k":168,"e":-0.36},{"b":"v24","k":172,"e":-0.32},{"b":"v24","k":176,"e":-0.36},{"b":"v24","k":180,"e":-0.42},{"b":"v24","k":184,"e":-0.46},{"b":"v24","k":188,"e":-0.42},{"b":"v24","k":192,"e":-0.38},{"b":"v24","k":196,"e":-0.44},{"b":"v24","k":200,"e":-0.48},{"b":"v24","k":204,"e":-0.44},{"b":"v24","k":208,"e":-0.40},{"b":"v24","k":212,"e":-0.44},{"b":"v24","k":216,"e":-0.48},{"b":"v24","k":220,"e":-0.46},
{"b":"v25","k":240,"e":-0.24},{"b":"v25","k":244,"e":-0.28},{"b":"v25","k":248,"e":-0.32},{"b":"v25","k":252,"e":-0.28},{"b":"v25","k":256,"e":-0.24},{"b":"v25","k":260,"e":-0.28},{"b":"v25","k":264,"e":-0.34},{"b":"v25","k":268,"e":-0.30},{"b":"v25","k":272,"e":-0.26},{"b":"v25","k":276,"e":-0.30},{"b":"v25","k":280,"e":-0.36},{"b":"v25","k":284,"e":-0.32},{"b":"v25","k":288,"e":-0.28},{"b":"v25","k":292,"e":-0.32},{"b":"v25","k":296,"e":-0.38},{"b":"v25","k":300,"e":-0.42},{"b":"v25","k":304,"e":-0.38},{"b":"v25","k":308,"e":-0.40},{"b":"v25","k":310,"e":-0.42},
{"b":"v26","k":0,"e":-0.49},{"b":"v26","k":3,"e":-0.46},{"b":"v26","k":6,"e":-0.42},{"b":"v26","k":9,"e":-0.45},{"b":"v26","k":12,"e":-0.50},{"b":"v26","k":15,"e":-0.47},{"b":"v26","k":18,"e":-0.44},{"b":"v26","k":22,"e":-0.48},{"b":"v26","k":26,"e":-0.52},{"b":"v26","k":30,"e":-0.49},{"b":"v26","k":34,"e":-0.46},{"b":"v26","k":38,"e":-0.50},{"b":"v26","k":42,"e":-0.55}
]
},
"layer": [
{"data": {"name": "kp"},
 "mark": {"type": "rule", "color": "#9a9a9a", "strokeDash": [4, 3], "strokeWidth": 0.8},
 "encoding": {"x": {"field": "k", "type": "quantitative", "scale": {"domain": [-15.3, 326.3], "nice": false, "zero": false},
   "axis": {"title": "k-points", "values": [0, 41.3, 66.3, 114.7, 125.3, 167.3, 191.3, 240.3, 283.7, 310.3], "tickCount": 30,
     "labelExpr": "datum.value < 20 ? 'Γ' : datum.value < 50 ? 'M' : datum.value < 90 ? 'K' : datum.value < 120 ? 'Γ' : datum.value < 150 ? 'A' : datum.value < 180 ? 'L' : datum.value < 220 ? 'H' : datum.value < 260 ? 'A' : datum.value < 300 ? 'M' : 'K'",
     "tickColor": "#000", "tickSize": 4, "labelFont": "Liberation Serif", "labelFontSize": 12.5, "labelColor": "#000", "labelPadding": 3, "labelOverlap": false,
     "titleFont": "Liberation Serif", "titleFontSize": 12, "titleFontWeight": "normal", "titleColor": "#000", "titlePadding": 6}}}},
{"data": {"name": "bands"},
 "mark": {"type": "line", "clip": true, "strokeWidth": 0.9, "opacity": 0.72},
 "encoding": {
   "x": {"field": "k", "type": "quantitative",
     "axis": {"title": "k-points", "values": [0, 41.3, 66.3, 114.7, 125.3, 167.3, 191.3, 240.3, 283.7, 310.3], "tickCount": 30,
     "labelExpr": "datum.value < 20 ? 'Γ' : datum.value < 50 ? 'M' : datum.value < 90 ? 'K' : datum.value < 120 ? 'Γ' : datum.value < 150 ? 'A' : datum.value < 180 ? 'L' : datum.value < 220 ? 'H' : datum.value < 260 ? 'A' : datum.value < 300 ? 'M' : 'K'",
     "tickColor": "#000", "tickSize": 4, "labelFont": "Liberation Serif", "labelFontSize": 12.5, "labelColor": "#000", "labelPadding": 3, "labelOverlap": false,
     "titleFont": "Liberation Serif", "titleFontSize": 12, "titleFontWeight": "normal", "titleColor": "#000", "titlePadding": 6}},
   "y": {"field": "e", "type": "quantitative", "scale": {"domain": [-0.5, 1.0], "nice": false, "zero": false},
     "axis": {"title": "Energy (eV)", "values": [-0.4, -0.2, 0, 0.2, 0.4, 0.6, 0.8, 1.0], "tickCount": 20, "format": ".1f", "tickColor": "#000", "tickSize": 4,
       "labelFont": "Liberation Serif", "labelFontSize": 12, "labelColor": "#000", "labelPadding": 3,
       "titleFont": "Liberation Serif", "titleFontSize": 12.5, "titleFontWeight": "normal", "titleColor": "#000", "titlePadding": 14}},
   "detail": {"field": "b"},
   "stroke": {"datum": "0.0 Å", "type": "nominal", "scale": {"range": ["#1c1a30"]},
     "legend": {"title": "vdW gap shift (Å)", "orient": "none", "legendX": 422, "legendY": 153, "symbolType": "stroke", "symbolSize": 500, "symbolStrokeWidth": 1.4, "symbolOpacity": 1, "symbolStrokeColor": "#000", "symbolOffset": 10, "titlePadding": 3,
       "titleFont": "Liberation Serif", "titleFontSize": 9.5, "titleFontWeight": "normal", "titleColor": "#000", "labelFont": "Liberation Serif", "labelFontSize": 9.5, "labelColor": "#000", "padding": 0}}}},
{"data": {"values": [{}]},
 "mark": {"type": "rule", "color": "#333", "strokeDash": [5, 3], "strokeWidth": 0.9},
 "encoding": {"y": {"datum": 0}}},
{"data": {"values": [{}]},
 "mark": {"type": "text", "text": "Fermi Energy (eV)", "angle": 270, "align": "center", "baseline": "middle", "font": "Liberation Serif", "fontSize": 9.5, "color": "#000"},
 "encoding": {"x": {"datum": 389.4}, "y": {"datum": 0.249}}},
{"data": {"name": "cb"},
 "mark": {"type": "point", "filled": true, "opacity": 0},
 "encoding": {"fill": {"field": "f", "type": "quantitative",
   "scale": {"domain": [8.19, 10.54], "range": ["#faebdd", "#f6c1a3", "#f59d76", "#f37651", "#e83f3f", "#cb1b4f", "#a11a5b", "#701f57", "#4c1d4b", "#2b1a3f", "#03051a"]},
   "legend": {"title": null, "orient": "none", "legendX": 349, "legendY": 0, "direction": "vertical", "gradientLength": 329, "gradientThickness": 16, "gradientStrokeColor": "#000", "gradientStrokeWidth": 1,
     "values": [8.5, 9.0, 9.5, 10.0, 10.5], "format": ".1f", "labelOverlap": false, "labelFont": "Liberation Serif", "labelFontSize": 9.5, "labelColor": "#000", "labelOffset": 5, "padding": 0}}}}
]
}
